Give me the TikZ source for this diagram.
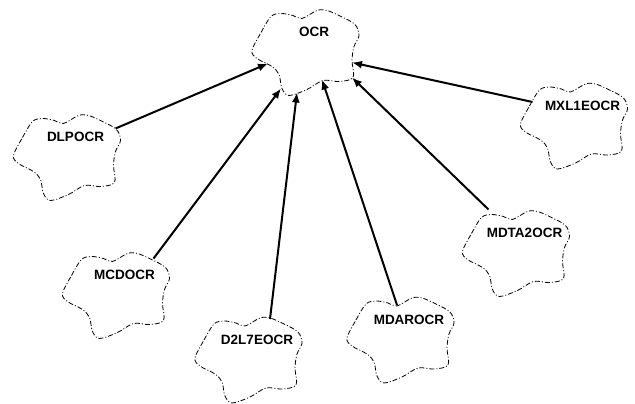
\documentclass[tikz,border=0pt]{standalone}
\usepackage{fontspec}
\setmainfont{Liberation Sans}
\usetikzlibrary{arrows.meta}

\begin{document}
\begin{tikzpicture}[
x=1pt, y=-1pt,
>={Latex[length=10pt, width=8pt]},
cloudline/.style={draw=black, line width=0.8pt, dash pattern=on 5pt off 2pt on 1pt off 2pt},
cloudlabel/.style={font=\fontsize{13.5}{16}\selectfont\bfseries, inner sep=0pt},
link/.style={->, line width=2pt},
booch/.pic={
  \draw[cloudline] plot[smooth cycle, tension=0.55] coordinates {(-53,-2) (-44,-20) (-34,-36) (-24,-39) (-12,-37) (-3,-34) (12,-42) (22,-42) (36,-36) (50,-28) (54,-17) (49,-6) (47,8) (48,25) (34,29) (18,28) (2,37) (-16,43) (-23,36) (-26,22) (-33,14) (-48,6)};
  \node[cloudlabel] (-label) at (9,-20.5) {#1};
  % contact points on the cloud outline
  \coordinate (-ne)  at (49,-29);
  \coordinate (-nne) at (38,-37);
  \coordinate (-n)   at (22,-41);
  \coordinate (-nnw) at (-3,-35);
  \coordinate (-nw)  at (-27,-44);
  \coordinate (-wnw) at (-41,-24);
  \coordinate (-w)   at (-37,11);
  \coordinate (-sw)  at (-24,36);
  \coordinate (-s)   at (-8,40);
  \coordinate (-sse) at (17,27);
  \coordinate (-se)  at (47,25);
  \coordinate (-ese) at (47,10);
},
]

\useasboundingbox (0,0) rectangle (635,404);

% Top category
\pic (ocr) at (305,52.5) {booch=OCR};

% Sub categories
\pic (dlpocr)   at (66.5,157.5)  {booch=DLPOCR};
\pic (mcdocr)   at (115.5,295.5) {booch=MCDOCR};
\pic (d2l7eocr) at (248,360)     {booch=D2L7EOCR};
\pic (mdarocr)  at (400,340)     {booch=MDAROCR};
\pic (mdta2ocr) at (515.5,253.5) {booch=MDTA2OCR};
\pic (mxl1eocr) at (573.5,126)   {booch=MXL1EOCR};

\draw[link] (dlpocr-ne) -- (ocr-w);
\draw[link] (mcdocr-nne) -- (ocr-sw);
\draw[link] (d2l7eocr-n) -- (ocr-s);
\draw[link] (mdarocr-nnw) -- (ocr-sse);
\draw[link] (mdta2ocr-nw) -- (ocr-se);
\draw[link] (mxl1eocr-wnw) -- (ocr-ese);
\end{tikzpicture}
\end{document}
